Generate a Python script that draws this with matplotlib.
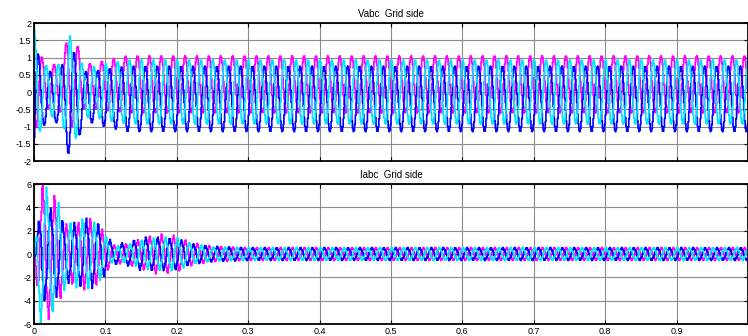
import matplotlib
matplotlib.use("Agg")
import matplotlib.pyplot as plt
import numpy as np

plt.rcParams["font.family"] = ["Liberation Sans", "DejaVu Sans"]

# grid-side waveforms, 60 Hz, sampled solver output (zero-order hold)
F_GRID = 60.0
T_STEP = 0.001
T_END = 1.0
PHASE_NAMES = ["a", "b", "c"]
PHASE_COLORS = ["#ff00ff", "#0000ff", "#00e5ff"]

# voltage envelope (multiplier on the steady pattern)
V_ENV_T = [0.0, 0.004, 0.012, 0.03, 0.042, 0.05, 0.058, 0.068, 0.08, 0.10, 0.13, 1.0]
V_ENV = [1.95, 1.6, 0.85, 0.75, 1.15, 1.75, 1.45, 0.8, 0.78, 0.88, 1.0, 1.0]
# steady-state per-phase amplitude, dc level and angle (rad)
V_AMP = [0.83, 0.95, 0.93]
V_DC = [0.22, -0.20, 0.0]
V_ANGLE = [2.09, -2.09, 0.0]

# current envelopes per phase
I_ENV_T = [0.0, 0.006, 0.012, 0.02, 0.03, 0.045, 0.06, 0.075, 0.09, 0.10,
           0.11, 0.13, 0.15, 0.175, 0.20, 0.22, 0.25, 0.30, 1.0]
I_ENV_A = [0.0, 4.0, 6.0, 5.0, 4.5, 2.3, 2.4, 2.9, 2.3, 1.5,
           0.7, 0.8, 1.2, 1.6, 1.4, 0.9, 0.6, 0.5, 0.5]
I_ENV_B = [0.0, 2.5, 3.8, 3.6, 3.4, 2.2, 2.5, 2.8, 2.4, 1.6,
           0.8, 0.9, 1.3, 1.3, 1.2, 0.8, 0.6, 0.5, 0.5]
I_ENV_C = [0.0, 5.0, 5.8, 4.8, 4.5, 2.4, 2.6, 2.8, 2.2, 1.4,
           0.6, 0.7, 1.1, 1.3, 1.3, 0.8, 0.55, 0.5, 0.5]
I_ANGLE = [4.4, 2.31, 0.21]
I_HARM5 = 0.12

V_TICKS = [-2, -1.5, -1, -0.5, 0, 0.5, 1, 1.5, 2]
I_TICKS = [-6, -4, -2, 0, 2, 4, 6]
X_TICKS = [0, 0.1, 0.2, 0.3, 0.4, 0.5, 0.6, 0.7, 0.8, 0.9]
X_TICKLABELS = ["0", "0.1", "0.2", "0.3", "0.4", "0.5", "0.6", "0.7", "0.8", "0.9"]

t = np.arange(0.0, T_END, T_STEP)
w = 2 * np.pi * F_GRID

v_env = np.interp(t, V_ENV_T, V_ENV)
v_abc = [v_env * (dc + amp * np.cos(w * t + ang))
         for amp, dc, ang in zip(V_AMP, V_DC, V_ANGLE)]

i_abc = []
for env, ang in zip([I_ENV_A, I_ENV_B, I_ENV_C], I_ANGLE):
    e = np.interp(t, I_ENV_T, env)
    i_abc.append(e * (np.cos(w * t - ang) + I_HARM5 * np.cos(5 * (w * t - ang))))


def style_axes(ax, yticks, ylim):
    ax.set_xlim(0, T_END)
    ax.set_ylim(*ylim)
    ax.set_yticks(yticks)
    ax.set_yticklabels([f"{v:g}" for v in yticks])
    ax.set_xticks(X_TICKS)
    ax.grid(True, color="#8c8c8c", linewidth=0.8)
    ax.tick_params(direction="in", top=True, right=True, length=3,
                   labelsize=6.5, pad=2, colors="black")
    for spine in ax.spines.values():
        spine.set_linewidth(1.3)
        spine.set_color("black")


fig = plt.figure(figsize=(7.48, 3.36), dpi=100)
ax_v = fig.add_axes([34 / 748, 1 - 161 / 336, 714 / 748, 138 / 336])
ax_i = fig.add_axes([34 / 748, 1 - 324 / 336, 714 / 748, 140 / 336])

for sig, col in zip(v_abc, PHASE_COLORS):
    ax_v.plot(t, sig, color=col, linewidth=1.2, drawstyle="steps-post")
for sig, col in zip(i_abc, PHASE_COLORS):
    ax_i.plot(t, sig, color=col, linewidth=1.2, drawstyle="steps-post")

style_axes(ax_v, V_TICKS, (-2, 2))
ax_v.set_xticklabels([])
ax_v.set_title("Vabc  Grid side", fontsize=7, pad=4)

style_axes(ax_i, I_TICKS, (-6, 6))
ax_i.set_xticklabels(X_TICKLABELS)
ax_i.set_title("Iabc  Grid side", fontsize=7, pad=4)

fig.savefig("out.png", dpi=100, facecolor="white")
